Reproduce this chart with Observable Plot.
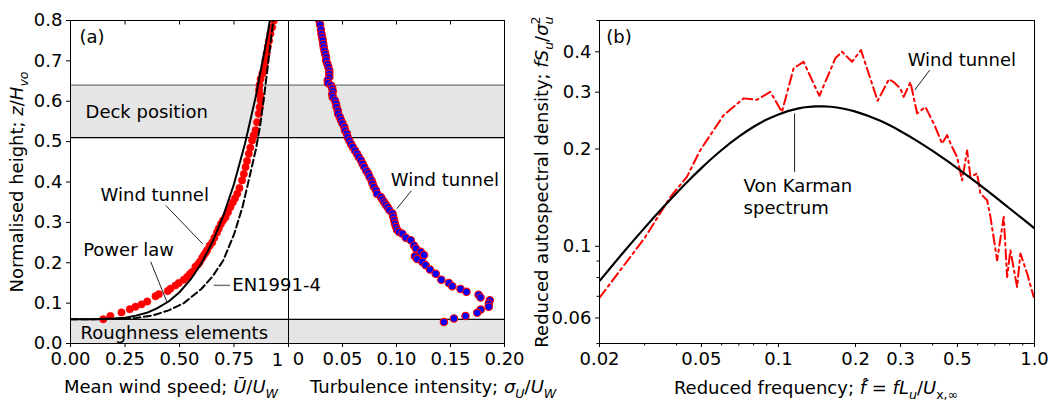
<!DOCTYPE html>
<html><head><meta charset="utf-8">
<script src="https://cdn.jsdelivr.net/npm/d3@7"></script>
<script src="https://cdn.jsdelivr.net/npm/@observablehq/plot@0.6"></script>
<style>
body{margin:0;background:#fff;}
#wrap{position:relative;width:1050px;height:402px;overflow:hidden;background:#fff;}
</style></head><body><div id="wrap"></div>
<script>
// ---------------- DATA ----------------
// Panel (a) left: mean wind speed profile
const wtMeanU = [0.150,0.183,0.234,0.272,0.298,0.326,0.352,0.390,0.405,0.446,0.459,0.482,0.497,0.520,0.535,0.548,0.558,0.573,0.585,0.593,0.604,0.612,0.620,0.627,0.638,0.650,0.660,0.672,0.680,0.690,0.700,0.711,0.722,0.734,0.745,0.755,0.765,0.775,0.787,0.795,0.803,0.810,0.818,0.825,0.833,0.840,0.849,0.856,0.864,0.868,0.872,0.870,0.865,0.867,0.872,0.880,0.887,0.890,0.894,0.900,0.905,0.911,0.917,0.925,0.933];
const wtMeanZ = [0.060,0.068,0.077,0.085,0.091,0.097,0.104,0.117,0.122,0.130,0.136,0.144,0.150,0.158,0.165,0.172,0.177,0.190,0.196,0.202,0.212,0.219,0.225,0.231,0.242,0.250,0.262,0.275,0.285,0.296,0.305,0.313,0.325,0.338,0.350,0.360,0.371,0.385,0.404,0.420,0.437,0.452,0.470,0.485,0.503,0.515,0.528,0.548,0.569,0.585,0.602,0.615,0.628,0.640,0.655,0.668,0.676,0.688,0.701,0.718,0.735,0.750,0.767,0.783,0.800];
const powerLawU = [0,0.10,0.20,0.25,0.30,0.35,0.40,0.45,0.50,0.55,0.60,0.65,0.70,0.75,0.80,0.85,0.90,0.93];
const powerLawZ = [0.060,0.060,0.062,0.064,0.069,0.076,0.088,0.104,0.127,0.158,0.198,0.250,0.315,0.395,0.494,0.612,0.753,0.850];
const enU = [0,0.20,0.30,0.38,0.45,0.52,0.60,0.65,0.70,0.75,0.79,0.82,0.85,0.87,0.89,0.91,0.93,0.935];
const enZ = [0.060,0.0605,0.063,0.070,0.082,0.100,0.135,0.165,0.205,0.270,0.340,0.410,0.480,0.540,0.620,0.710,0.800,0.830];
// Panel (a) right: turbulence intensity profile
const tiT = [0.0286,0.0293,0.0300,0.0305,0.0311,0.0317,0.0322,0.0326,0.0333,0.0340,0.0348,0.0348,0.0360,0.0369,0.0378,0.0378,0.0378,0.0363,0.0365,0.0394,0.0405,0.0410,0.0405,0.0410,0.0430,0.0440,0.0445,0.0456,0.0460,0.0475,0.0486,0.0500,0.0517,0.0523,0.0540,0.0548,0.0563,0.0578,0.0594,0.0615,0.0634,0.0650,0.0671,0.0686,0.0701,0.0720,0.0738,0.0750,0.0769,0.0778,0.0790,0.0809,0.0820,0.0855,0.0870,0.0886,0.0900,0.0917,0.0935,0.0963,0.0970,0.0978,0.0985,0.0994,0.1005,0.1024,0.1055,0.1086,0.1132,0.1162,0.1180,0.1224,0.1255,0.1170,0.1190,0.1240,0.1270,0.1310,0.1363,0.1415,0.1485,0.1517,0.1593,0.1648,0.1760,0.1778,0.1864,0.1854,0.1854,0.1780,0.1747,0.1639,0.1532,0.1439];
const tiZ = [0.800,0.790,0.778,0.767,0.759,0.751,0.742,0.734,0.725,0.717,0.709,0.701,0.692,0.685,0.676,0.668,0.660,0.652,0.645,0.639,0.632,0.625,0.617,0.610,0.602,0.594,0.586,0.577,0.569,0.561,0.553,0.545,0.536,0.528,0.520,0.511,0.503,0.495,0.487,0.478,0.470,0.462,0.454,0.445,0.437,0.428,0.421,0.413,0.404,0.396,0.388,0.380,0.371,0.363,0.356,0.350,0.344,0.338,0.330,0.322,0.314,0.305,0.297,0.289,0.282,0.276,0.272,0.262,0.256,0.243,0.235,0.227,0.219,0.216,0.209,0.202,0.194,0.183,0.173,0.158,0.150,0.142,0.135,0.128,0.121,0.114,0.107,0.099,0.091,0.084,0.076,0.068,0.062,0.053];
// Bands
const bandLow = [0, 0.51];
const bandHigh = [0.06, 0.64];
const bandLineZ = [0.06, 0.51, 0.64];
// Panel (b): spectra
const vkF = [0.02,0.025,0.03,0.035,0.04,0.045,0.05,0.06,0.07,0.08,0.09,0.10,0.12,0.13,0.14,0.15,0.16,0.18,0.20,0.25,0.30,0.35,0.40,0.45,0.50,0.60,0.70,0.80,0.90,1.00];
const vkS = [0.078,0.0965,0.114,0.1306,0.1463,0.161,0.1746,0.1986,0.2184,0.2344,0.2467,0.256,0.2672,0.2699,0.2711,0.2712,0.2704,0.2666,0.2612,0.2445,0.2271,0.2113,0.1973,0.185,0.1742,0.1565,0.1424,0.1309,0.1215,0.1136];
const wtSpecF = [0.02,0.03,0.0378,0.0439,0.0495,0.0611,0.0731,0.0824,0.0929,0.1032,0.1146,0.1253,0.1445,0.1667,0.1771,0.1938,0.2100,0.2440,0.2700,0.2818,0.2993,0.3083,0.3276,0.348,0.375,0.392,0.410,0.4355,0.4555,0.4766,0.4985,0.5214,0.5455,0.562,0.5967,0.6148,0.653,0.6728,0.7146,0.7584,0.7817,0.805,0.855,0.881,0.936,0.993];
const wtSpecS = [0.0693,0.106,0.142,0.164,0.1985,0.2547,0.287,0.284,0.3007,0.2605,0.3554,0.3725,0.292,0.3817,0.400,0.3725,0.405,0.282,0.329,0.3225,0.308,0.290,0.3225,0.2578,0.270,0.2515,0.234,0.208,0.2208,0.203,0.189,0.160,0.198,0.164,0.168,0.1457,0.1388,0.1233,0.0905,0.1233,0.0803,0.0972,0.0748,0.095,0.0823,0.0697];
// Ticks
const meanTicks = [0, 0.25, 0.5, 0.75];
const meanEndTick = [1];
const tiTicks = [0, 0.05, 0.10, 0.15, 0.20];
const zTicks = [0,0.1,0.2,0.3,0.4,0.5,0.6,0.7,0.8];
const fTicks = [0.02,0.05,0.1,0.2,0.3,0.5,1.0];
const fTickLabels = ["0.02","0.05","0.1","0.2","0.3","0.5","1.0"];
const fMinor = [0.03,0.04,0.06,0.07,0.08,0.09,0.4,0.6,0.7,0.8,0.9];
const sTicks = [0.06,0.1,0.2,0.3,0.4];
const sTickLabels = ["0.06","0.1","0.2","0.3","0.4"];
const sMinor = [0.05,0.07,0.08,0.09,0.5];
// Texts
const annA = ["(a)","Deck position","Roughness elements","Wind tunnel","Power law","EN1991-4"];
const annB = ["Wind tunnel"];
const annC = ["(b)","Wind tunnel","Von Karman\nspectrum"];

// ---------------- BUILD ----------------
const FONT = "DejaVu Sans";
const FS = 18;
const H = 402, mT = 20, mB = 59;
const wrap = document.getElementById("wrap");
const base = {fontFamily: FONT, fontSize: FS + "px", background: "transparent", overflow: "visible", color: "black"};
const mount = (svg, left) => { svg.style.position = "absolute"; svg.style.left = left + "px"; svg.style.top = "0px"; wrap.appendChild(svg); return svg; };
const zip = (a, b, k1, k2) => a.map((v, i) => ({[k1]: v, [k2]: b[i]}));

const bands = bandLow.map((lo, i) => ({lo, hi: bandHigh[i]}));
const lines = bandLineZ.map(z => ({z, c: z > 0.6 ? "#777" : "black"}));
const grey = "#e5e5e5";
const plotH = H - mT - mB;

// Panel A (mean wind speed)
const xDomA = [0, 1];
const svgA = Plot.plot({
  width: 290, height: H, marginLeft: 70, marginRight: 2, marginTop: mT, marginBottom: mB,
  style: base,
  x: {domain: xDomA, axis: null}, y: {domain: [0, 0.8], axis: null},
  marks: [
    Plot.rect(bands, {x1: xDomA[0], x2: xDomA[1], y1: "lo", y2: "hi", fill: grey}),
    Plot.ruleY(lines, {y: "z", stroke: "c", strokeWidth: 1.2}),
    Plot.dot(zip(wtMeanU, wtMeanZ, "u", "z"), {x: "u", y: "z", r: 3.7, fill: "red", stroke: "red", strokeWidth: 0.5, clip: true}),
    Plot.line(zip(powerLawU, powerLawZ, "u", "z"), {x: "u", y: "z", stroke: "black", strokeWidth: 2, clip: true}),
    Plot.line(zip(enU, enZ, "u", "z"), {x: "u", y: "z", stroke: "black", strokeWidth: 2, strokeDasharray: "7,3.5", clip: true}),
    Plot.frame({stroke: "black"}),
    Plot.axisY({ticks: zTicks, tickFormat: d3.format(".1f"), tickSize: 4, tickPadding: 4, label: null}),
    Plot.axisX({ticks: meanTicks, tickFormat: d3.format(".2f"), tickSize: 4, tickPadding: 5, label: null}),
    Plot.tickX(meanTicks.slice(1), {x: d => d, insetBottom: plotH - 4.5, stroke: "black"}),
    Plot.text(meanEndTick, {x: d => d, frameAnchor: "bottom", text: d => String(d), dx: -11, dy: 10, lineAnchor: "top"}),
    Plot.text([annA[0]], {x: 0.041, y: 0.758, textAnchor: "start", lineAnchor: "middle"}),
    Plot.text([annA[1]], {x: 0.069, y: 0.573, textAnchor: "start", lineAnchor: "middle"}),
    Plot.text([annA[2]], {x: 0.046, y: 0.026, textAnchor: "start", lineAnchor: "middle"}),
    Plot.text([annA[3]], {x: 0.138, y: 0.367, textAnchor: "start", lineAnchor: "middle"}),
    Plot.text([annA[4]], {x: 0.058, y: 0.231, textAnchor: "start", lineAnchor: "middle"}),
    Plot.text([annA[5]], {x: 0.742, y: 0.144, textAnchor: "start", lineAnchor: "middle"}),
    Plot.link([{x1: 0.437, y1: 0.342, x2: 0.606, y2: 0.247}, {x1: 0.368, y1: 0.2025, x2: 0.4436, y2: 0.101}], {x1: "x1", y1: "y1", x2: "x2", y2: "y2", stroke: "#222", strokeWidth: 1}),
    Plot.link([{x1: 0.657, y1: 0.144, x2: 0.732, y2: 0.144}], {x1: "x1", y1: "y1", x2: "x2", y2: "y2", stroke: "#777", strokeWidth: 1.5})
  ]
});
mount(svgA, 0);

// Panel A2 (turbulence intensity)
const xDomB = [0, 0.2];
const svgB = Plot.plot({
  width: 256, height: H, marginLeft: 10, marginRight: 30, marginTop: mT, marginBottom: mB,
  style: base,
  x: {domain: xDomB, axis: null}, y: {domain: [0, 0.8], axis: null},
  marks: [
    Plot.rect(bands, {x1: xDomB[0], x2: xDomB[1], y1: "lo", y2: "hi", fill: grey}),
    Plot.ruleY(lines, {y: "z", stroke: "c", strokeWidth: 1.2}),
    Plot.dot(zip(tiT, tiZ, "t", "z"), {x: "t", y: "z", r: 3.7, fill: "blue", stroke: "red", strokeWidth: 1.1, clip: true}),
    Plot.frame({stroke: "black"}),
    Plot.axisX({ticks: tiTicks, tickFormat: d => d === 0 ? "" : d3.format(".2f")(d), tickSize: 4, tickPadding: 5, label: null}),
    Plot.text(tiTicks.slice(0, 1), {x: d => d, frameAnchor: "bottom", text: d => String(d), dx: 10, dy: 9, lineAnchor: "top"}),
    Plot.tickX(tiTicks.slice(1, 4), {x: d => d, insetBottom: plotH - 4.5, stroke: "black"}),
    Plot.text(annB, {x: 0.0947, y: 0.404, textAnchor: "start", lineAnchor: "middle"}),
    Plot.link([{x1: 0.1137, y1: 0.378, x2: 0.1003, y2: 0.334}], {x1: "x1", y1: "y1", x2: "x2", y2: "y2", stroke: "#222", strokeWidth: 1})
  ]
});
mount(svgB, 278);

// Panel B (spectrum)
const svgC = Plot.plot({
  width: 490, height: H, marginLeft: 39, marginRight: 16, marginTop: mT, marginBottom: mB,
  style: base,
  x: {type: "log", domain: [0.02, 1], axis: null}, y: {type: "log", domain: [0.05, 0.5], axis: null},
  marks: [
    Plot.line(zip(wtSpecF, wtSpecS, "f", "s"), {x: "f", y: "s", stroke: "red", strokeWidth: 2, strokeDasharray: "10,4,2.5,4", clip: true}),
    Plot.line(zip(vkF, vkS, "f", "s"), {x: "f", y: "s", stroke: "black", strokeWidth: 2.2, curve: "monotone-x", clip: true}),
    Plot.frame({stroke: "black"}),
    Plot.axisX({ticks: fTicks, tickFormat: d => fTickLabels[fTicks.indexOf(d)], tickSize: 4, tickPadding: 5, label: null}),
    Plot.axisX({ticks: fMinor, tickFormat: () => "", tickSize: 2.5, label: null}),
    Plot.axisY({ticks: sTicks, tickFormat: d => sTickLabels[sTicks.indexOf(d)], tickSize: 4, tickPadding: 4, label: null}),
    Plot.axisY({ticks: sMinor, tickFormat: () => "", tickSize: 2.5, label: null}),
    Plot.text([annC[0]], {x: 0.02124, y: 0.445, textAnchor: "start", lineAnchor: "middle"}),
    Plot.text([annC[1]], {x: 0.3197, y: 0.377, textAnchor: "start", lineAnchor: "middle"}),
    Plot.text([annC[2]], {x: 0.0731, y: 0.143, textAnchor: "start", lineAnchor: "middle", lineHeight: 1.2}),
    Plot.link([{x1: 0.3896, y1: 0.351, x2: 0.3405, y2: 0.3044}, {x1: 0.1156, y1: 0.2578, x2: 0.1156, y2: 0.17}], {x1: "x1", y1: "y1", x2: "x2", y2: "y2", stroke: "#222", strokeWidth: 1})
  ]
});
mount(svgC, 560);

// Axis titles with math typesetting
function mathLabel(svg, x, y, rot, anchor, parts) {
  const t = d3.select(svg).append("text")
    .attr("transform", `translate(${x},${y})` + (rot ? " rotate(-90)" : ""))
    .attr("text-anchor", anchor).attr("fill", "black")
    .style("font-family", FONT).style("font-size", FS + "px");
  let cur = 0;
  for (const [txt, kind, dx] of parts) {
    const shift = kind.includes("sub") ? FS * 0.28 : kind.includes("sup") ? -FS * 0.45 : 0;
    const s = t.append("tspan").text(txt).attr("dy", shift - cur);
    cur = shift;
    if (kind.includes("i")) s.style("font-style", "italic");
    if (shift !== 0) s.style("font-size", (FS * 0.7) + "px");
    if (dx) s.attr("dx", dx);
  }
}
mathLabel(svgA, 171, 393, false, "middle", [["Mean wind speed; ", "n"], ["U\u0304", "i"], ["/", "n"], ["U", "i"], ["W", "isub"]]);
mathLabel(svgA, 23, 182, true, "middle", [["Normalised height; ", "n"], ["z", "i"], ["/", "n"], ["H", "i"], ["vo", "isub"]]);
mathLabel(svgB, 32, 393, false, "start", [["Turbulence intensity; ", "n"], ["\u03c3", "i"], ["U", "isub"], ["/", "n"], ["U", "i"], ["W", "isub"]]);
mathLabel(svgC, 256, 394, false, "middle", [["Reduced frequency; ", "n"], ["f\u0302", "i"], [" = ", "n"], ["fL", "i"], ["u", "isub"], ["/", "n"], ["U", "i"], ["x,\u221e", "sub"]]);
mathLabel(svgC, -12, 182, true, "middle", [["Reduced autospectral density; ", "n"], ["fS", "i"], ["u", "isub"], ["/", "n"], ["\u03c3", "i"], ["u", "isub"], ["2", "sup", -8]]);
</script>
</body></html>
